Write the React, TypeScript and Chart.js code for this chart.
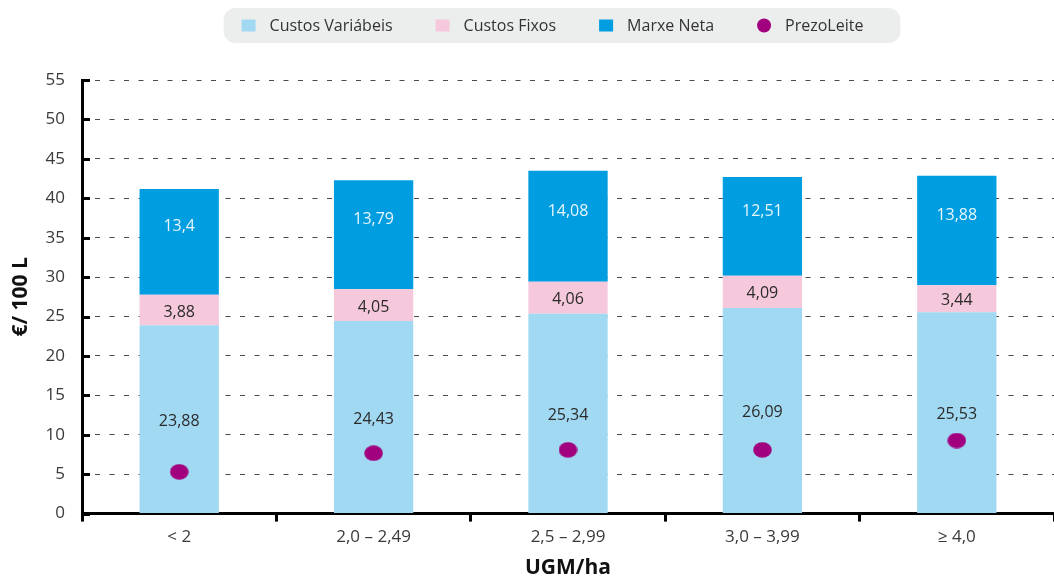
import React, { useEffect, useRef } from 'react';
import { Chart, registerables } from 'chart.js';

Chart.register(...registerables);

const categories = ['< 2', '2,0 – 2,49', '2,5 – 2,99', '3,0 – 3,99', '≥ 4,0'];
const custosVariabeis = [23.88, 24.43, 25.34, 26.09, 25.53];
const custosFixos = [3.88, 4.05, 4.06, 4.09, 3.44];
const marxeNeta = [13.4, 13.79, 14.08, 12.51, 13.88];
const prezoLeite = [5.3, 7.66, 8.09, 8.09, 9.27];
const seriesNames = ['Custos Variábeis', 'Custos Fixos', 'Marxe Neta', 'PrezoLeite'];
const yMin = 0;
const yMax = 55;
const yStep = 5;

const COL_VAR = '#A2D9F2';
const COL_FIX = '#F5C8DC';
const COL_NET = '#009EE0';
const COL_PRICE = '#A1007F';
const FONT = '"Open Sans", "Noto Sans", sans-serif';

function makeEllipse(w: number, h: number, color: string) {
  const c = document.createElement('canvas');
  c.width = w;
  c.height = h;
  const g = c.getContext('2d')!;
  g.fillStyle = color;
  g.beginPath();
  g.ellipse(w / 2, h / 2, w / 2 - 0.2, h / 2 - 0.2, 0, 0, Math.PI * 2);
  g.fill();
  return c;
}

const fmt = (v: number) => String(v).replace('.', ',');

const dataLabelPlugin = {
  id: 'segLabels',
  afterDatasetsDraw(chart: any) {
    const ctx = chart.ctx;
    ctx.save();
    ctx.font = `16px ${FONT}`;
    ctx.textAlign = 'center';
    ctx.textBaseline = 'middle';
    [0, 1, 2].forEach((di) => {
      const meta = chart.getDatasetMeta(di);
      const ds = chart.data.datasets[di];
      meta.data.forEach((bar: any, i: number) => {
        const cy = (bar.y + bar.base) / 2 + (di === 2 ? -15 : 2);
        ctx.fillStyle = di === 2 ? '#E8F5FC' : '#2A2A2A';
        ctx.fillText(fmt(ds.data[i]), bar.x, cy);
      });
    });
    ctx.restore();
  },
};

const axisTickPlugin = {
  id: 'innerTicks',
  afterDraw(chart: any) {
    const ctx = chart.ctx;
    const ys = chart.scales.y;
    const left = chart.chartArea.left;
    ctx.save();
    ctx.strokeStyle = '#000';
    ctx.lineWidth = 3;
    ys.ticks.forEach((_t: any, i: number) => {
      const py = Math.round(ys.getPixelForTick(i)) + 0.5;
      ctx.beginPath();
      ctx.moveTo(left - 1, py);
      ctx.lineTo(left + 8, py);
      ctx.stroke();
    });
    ctx.restore();
  },
};

const legendPlugin = {
  id: 'boxLegend',
  afterDraw(chart: any) {
    const ctx = chart.ctx;
    const colors = [COL_VAR, COL_FIX, COL_NET, COL_PRICE];
    ctx.save();
    ctx.font = `16px ${FONT}`;
    const sym = 14;
    const gap = 14;
    const itemGap = 43;
    const padL = 18;
    const padR = 37;
    const widths = seriesNames.map((n) => ctx.measureText(n).width);
    const total = widths.reduce((a, b) => a + b, 0) + seriesNames.length * (sym + gap) + (seriesNames.length - 1) * itemGap;
    const boxW = total + padL + padR;
    const cx = (chart.chartArea.left + chart.chartArea.right) / 2 - 6;
    const bx = cx - boxW / 2;
    const by = 8;
    const bh = 35;
    const r = 12;
    ctx.fillStyle = '#ECEDED';
    ctx.beginPath();
    ctx.moveTo(bx + r, by);
    ctx.arcTo(bx + boxW, by, bx + boxW, by + bh, r);
    ctx.arcTo(bx + boxW, by + bh, bx, by + bh, r);
    ctx.arcTo(bx, by + bh, bx, by, r);
    ctx.arcTo(bx, by, bx + boxW, by, r);
    ctx.closePath();
    ctx.fill();
    const cy = by + bh / 2;
    let x = bx + padL;
    ctx.textBaseline = 'middle';
    ctx.textAlign = 'left';
    seriesNames.forEach((n, i) => {
      ctx.fillStyle = colors[i];
      if (i === 3) {
        ctx.beginPath();
        ctx.arc(x + sym / 2, cy, 7, 0, Math.PI * 2);
        ctx.fill();
      } else {
        ctx.fillRect(x, cy - 6, sym, 12);
      }
      x += sym + gap;
      ctx.fillStyle = '#333333';
      ctx.fillText(n, x, cy + 0.5);
      x += widths[i] + itemGap;
    });
    ctx.restore();
  },
};

export default function App() {
  const ref = useRef<HTMLCanvasElement | null>(null);
  useEffect(() => {
    if (!ref.current) return;
    document.body.style.margin = '0';
    const dot = makeEllipse(19, 16, COL_PRICE);
    const chart = new Chart(ref.current, {
      type: 'bar',
      data: {
        labels: categories,
        datasets: [
          { label: seriesNames[0], data: custosVariabeis, backgroundColor: COL_VAR, stack: 'costs', barPercentage: 0.408, categoryPercentage: 1, order: 2 },
          { label: seriesNames[1], data: custosFixos, backgroundColor: COL_FIX, stack: 'costs', barPercentage: 0.408, categoryPercentage: 1, order: 2 },
          { label: seriesNames[2], data: marxeNeta, backgroundColor: COL_NET, stack: 'costs', barPercentage: 0.408, categoryPercentage: 1, order: 2 },
          {
            type: 'line',
            label: seriesNames[3],
            data: prezoLeite,
            stack: 'price',
            showLine: false,
            pointStyle: dot as any,
            pointRadius: 9,
            pointHoverRadius: 9,
            backgroundColor: COL_PRICE,
            borderColor: COL_PRICE,
            order: 1,
          } as any,
        ],
      },
      options: {
        animation: false,
        responsive: true,
        maintainAspectRatio: false,
        layout: { padding: { top: 80, left: 0, right: 1, bottom: 0 } },
        plugins: { legend: { display: false }, tooltip: { enabled: false } },
        scales: {
          x: {
            stacked: true,
            offset: true,
            grid: { offset: true, drawOnChartArea: false, drawTicks: true, tickLength: 8, color: '#000', lineWidth: 3 },
            border: { display: true, color: '#000', width: 3 },
            ticks: { color: '#3A3A3A', font: { family: FONT, size: 17 }, padding: 5, maxRotation: 0, autoSkip: false },
            title: { display: true, text: 'UGM/ha', color: '#111', font: { family: FONT, size: 21, weight: 'bold', lineHeight: 1.0 }, padding: { top: 6, bottom: 0 } },
          },
          y: {
            stacked: true,
            min: yMin,
            max: yMax,
            afterFit: (scale: any) => { scale.width = 82; },
            ticks: { stepSize: yStep, color: '#3A3A3A', font: { family: FONT, size: 17 }, padding: 17 },
            grid: { drawTicks: false, color: '#4A4A4A', lineWidth: 1 },
            border: { display: true, color: '#000', width: 3, dash: [5, 9.5], dashOffset: 3.5 } as any,
            title: { display: true, text: '€/ 100 L', color: '#111', font: { family: FONT, size: 21, weight: 'bold' }, padding: { top: 8, bottom: 0 } },
          },
        },
      },
      plugins: [dataLabelPlugin, axisTickPlugin, legendPlugin],
    });
    return () => chart.destroy();
  }, []);
  return (
    <div style={{ position: 'fixed', left: 0, top: 0, width: 1054, height: 579, overflow: 'hidden', background: '#fff' }}>
      <div style={{ position: 'relative', width: 1064, height: 579 }}>
        <canvas ref={ref} />
      </div>
    </div>
  );
}
